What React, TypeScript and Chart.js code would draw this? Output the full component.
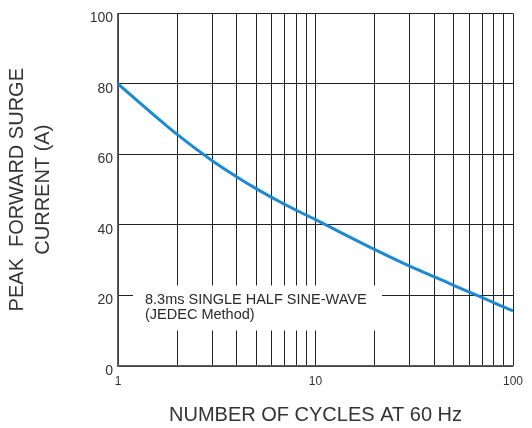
import React, { useEffect, useRef } from "react";
import { Chart, registerables } from "chart.js";

Chart.register(...registerables);

const cycles = [1, 2, 3, 4, 5, 7, 10, 20, 30, 40, 50, 70, 100];
const surgeCurrent = [80, 65.6, 58.2, 53.6, 50.3, 45.8, 41.5, 33, 28.3, 25.3, 22.9, 19.4, 15.6];
const xGridValues = [1, 2, 3, 4, 5, 6, 7, 8, 9, 10, 20, 30, 40, 50, 60, 70, 80, 90, 100];
const xLabelValues = [1, 10, 100];
const yTitleLines = ["PEAK  FORWARD SURGE", "CURRENT (A)"];
const xTitle = "NUMBER OF CYCLES AT 60 Hz";
const noteLines = ["8.3ms SINGLE HALF SINE-WAVE", "(JEDEC Method)"];

const FONT = '"Liberation Sans", Arial, Helvetica, sans-serif';

const notePlugin = {
  id: "noteBox",
  beforeDatasetsDraw(chart: any) {
    const { ctx, chartArea, scales } = chart;
    const y20 = scales.y.getPixelForValue(20);
    const left = chartArea.left + 15;
    const top = y20 - 10;
    ctx.save();
    ctx.fillStyle = "#ffffff";
    ctx.fillRect(left, top, 249, 45);
    ctx.fillStyle = "#2a2a2a";
    ctx.font = `14.5px ${FONT}`;
    ctx.textAlign = "left";
    ctx.textBaseline = "middle";
    ctx.fillText(noteLines[0], left + 12, y20 + 4.5);
    ctx.fillText(noteLines[1], left + 12, y20 + 20);
    ctx.restore();
  },
};

export default function App() {
  const ref = useRef<HTMLCanvasElement | null>(null);

  useEffect(() => {
    if (!ref.current) return;
    const chart = new Chart(ref.current, {
      type: "line",
      data: {
        datasets: [
          {
            data: cycles.map((c, i) => ({ x: c, y: surgeCurrent[i] })),
            borderColor: "#1b8ad2",
            borderWidth: 3,
            pointRadius: 0,
            fill: false,
            cubicInterpolationMode: "monotone",
          },
        ],
      },
      plugins: [notePlugin],
      options: {
        animation: false,
        responsive: true,
        maintainAspectRatio: false,
        layout: { padding: { left: 0, top: 12, right: 19, bottom: 0 } },
        plugins: { legend: { display: false }, tooltip: { enabled: false } },
        scales: {
          x: {
            type: "logarithmic",
            min: 1,
            max: 100,
            afterBuildTicks: (scale: any) => {
              scale.ticks = xGridValues.map((v) => ({ value: v }));
            },
            afterFit: (scale: any) => {
              scale.height = 62;
            },
            grid: { color: "#222", lineWidth: 1, drawTicks: false },
            border: { display: true, color: "#606060", width: 1.5 },
            ticks: {
              autoSkip: false,
              maxRotation: 0,
              padding: 8,
              color: "#333",
              font: { family: FONT, size: 12 },
              callback: (v: any) => (xLabelValues.includes(Number(v)) ? String(v) : ""),
            },
            title: {
              display: true,
              text: xTitle,
              color: "#333",
              font: { family: FONT, size: 20, lineHeight: 1.2 },
              padding: { top: 0, bottom: 1 },
            },
          },
          y: {
            type: "linear",
            min: 0,
            max: 100,
            afterFit: (scale: any) => {
              scale.width = 118;
            },
            grid: { color: "#222", lineWidth: 1, drawTicks: false },
            border: { display: true, color: "#606060", width: 1.5 },
            ticks: {
              stepSize: 20,
              padding: 5,
              labelOffset: 5,
              color: "#333",
              font: { family: FONT, size: 14 },
            },
            title: {
              display: true,
              text: yTitleLines,
              color: "#333",
              font: { family: FONT, size: 20, lineHeight: 1.3 },
              padding: { top: 4, bottom: 0 },
            },
          },
        },
      },
    });
    return () => chart.destroy();
  }, []);

  return (
    <div style={{ position: "absolute", left: 0, top: 0, width: 532, height: 428, background: "#fff" }}>
      <canvas ref={ref} />
    </div>
  );
}
